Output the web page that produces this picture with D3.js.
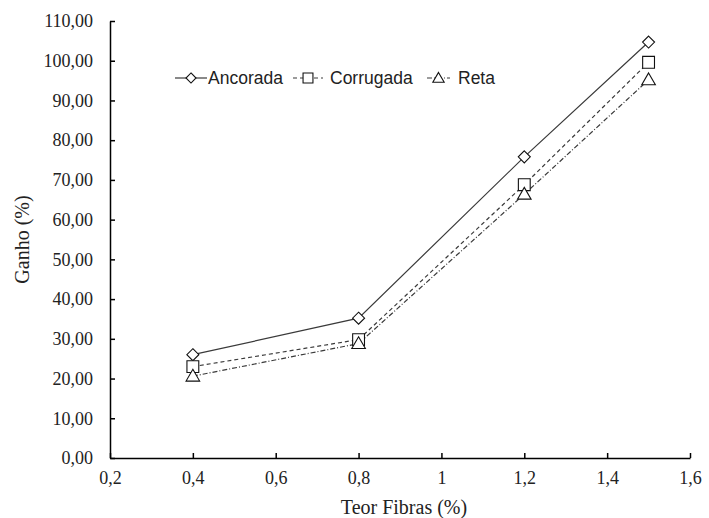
<!DOCTYPE html>
<html>
<head>
<meta charset="utf-8">
<script src="https://cdn.jsdelivr.net/npm/d3@7/dist/d3.min.js"></script>
<style>
  html, body { margin: 0; padding: 0; background: #fff; }
  svg { display: block; }
</style>
</head>
<body>
<svg id="chart" width="709" height="518"></svg>
<script>
// Fibre content (%) on the x axis
const teor = [0.4, 0.8, 1.2, 1.5];
// Gain (%) per fibre type
const ancorada = [26.0, 35.2, 75.8, 104.7];
const corrugada = [23.0, 29.8, 68.8, 99.6];
const reta = [20.6, 28.8, 66.4, 95.2];
const seriesNames = ["Ancorada", "Corrugada", "Reta"];
const xTicks = [0.2, 0.4, 0.6, 0.8, 1.0, 1.2, 1.4, 1.6];
const yTicks = [0, 10, 20, 30, 40, 50, 60, 70, 80, 90, 100, 110];

const svg = d3.select("#chart");
const margin = { left: 110, right: 19, top: 21, bottom: 60 };
const W = 709, H = 518;

const x = d3.scaleLinear().domain([0.2, 1.6]).range([margin.left, W - margin.right]);
const y = d3.scaleLinear().domain([0, 110]).range([H - margin.bottom, margin.top]);

const fmtX = d => d3.format("~g")(d).replace(".", ",");
const fmtY = d => d3.format(".2f")(d).replace(".", ",");

const serif = "'Liberation Serif', 'Times New Roman', serif";
const sans = "'Liberation Sans', Arial, sans-serif";

// Axes with inward ticks
const xAxis = svg.append("g")
  .attr("transform", `translate(0,${y(0)})`)
  .call(d3.axisBottom(x).tickValues(xTicks).tickFormat(fmtX).tickSizeInner(-5).tickSizeOuter(0).tickPadding(13));
const yAxis = svg.append("g")
  .attr("transform", `translate(${x(0.2)},0)`)
  .call(d3.axisLeft(y).tickValues(yTicks).tickFormat(fmtY).tickSizeInner(-5).tickSizeOuter(0).tickPadding(17));

[xAxis, yAxis].forEach(g => {
  g.select(".domain").attr("stroke", "#000").attr("stroke-width", 1.5);
  g.selectAll(".tick line").attr("stroke", "#000").attr("stroke-width", 1.5);
  g.selectAll(".tick text").attr("fill", "#222").style("font-family", serif).style("font-size", "18px");
});

// Axis titles
svg.append("text")
  .attr("x", (x(0.2) + x(1.6)) / 2 + 4).attr("y", 514)
  .attr("text-anchor", "middle")
  .style("font-family", serif).style("font-size", "20px").attr("fill", "#222")
  .text("Teor Fibras (%)");
svg.append("text")
  .attr("transform", `translate(29,${(y(0) + y(110)) / 2}) rotate(-90)`)
  .attr("text-anchor", "middle")
  .style("font-family", serif).style("font-size", "20px").attr("fill", "#222")
  .text("Ganho (%)");

// Diamond drawn as a square turned 45 degrees
const diamond = {
  draw(ctx, size) {
    const r = Math.sqrt(size / 2);
    ctx.moveTo(0, -r); ctx.lineTo(r, 0); ctx.lineTo(0, r); ctx.lineTo(-r, 0); ctx.closePath();
  }
};

const series = [
  { name: seriesNames[0], values: ancorada, dash: null, symbol: diamond, size: 72, dy: 0 },
  { name: seriesNames[1], values: corrugada, dash: "4,3", symbol: d3.symbolSquare, size: 140, dy: 0 },
  { name: seriesNames[2], values: reta, dash: "5,2,1,2", symbol: d3.symbolTriangle, size: 80, dy: 1 }
];

const line = d3.line().x((d, i) => x(teor[i])).y(d => y(d));
const lineColor = "#3a3a3a";

series.forEach(s => {
  svg.append("path")
    .datum(s.values)
    .attr("d", line)
    .attr("fill", "none")
    .attr("stroke", lineColor)
    .attr("stroke-width", 1.2)
    .attr("stroke-dasharray", s.dash);
});

series.forEach(s => {
  svg.append("g").selectAll("path")
    .data(s.values)
    .join("path")
    .attr("transform", (d, i) => `translate(${x(teor[i])},${y(d) + s.dy})`)
    .attr("d", d3.symbol().type(s.symbol).size(s.size))
    .attr("fill", "#fff")
    .attr("stroke", "#111")
    .attr("stroke-width", 1.1);
});

// Legend
const legend = svg.append("g").attr("transform", "translate(0,78)");
const legendItems = [
  { s: series[0], x0: 175, len: 32, textX: 208 },
  { s: series[1], x0: 293, len: 30, textX: 330 },
  { s: series[2], x0: 427, len: 23, textX: 458 }
];
legendItems.forEach(it => {
  legend.append("line")
    .attr("x1", it.x0).attr("x2", it.x0 + it.len).attr("y1", 0).attr("y2", 0)
    .attr("stroke", lineColor).attr("stroke-width", 1.2)
    .attr("stroke-dasharray", it.s.dash);
  legend.append("path")
    .attr("transform", `translate(${it.x0 + it.len / 2},${it.s.dy})`)
    .attr("d", d3.symbol().type(it.s.symbol).size(it.s.size * 0.7))
    .attr("fill", "#fff").attr("stroke", "#111").attr("stroke-width", 1.1);
  legend.append("text")
    .attr("x", it.textX).attr("y", 6)
    .style("font-family", sans).style("font-size", "17.5px").attr("fill", "#222")
    .text(it.s.name);
});
</script>
</body>
</html>
